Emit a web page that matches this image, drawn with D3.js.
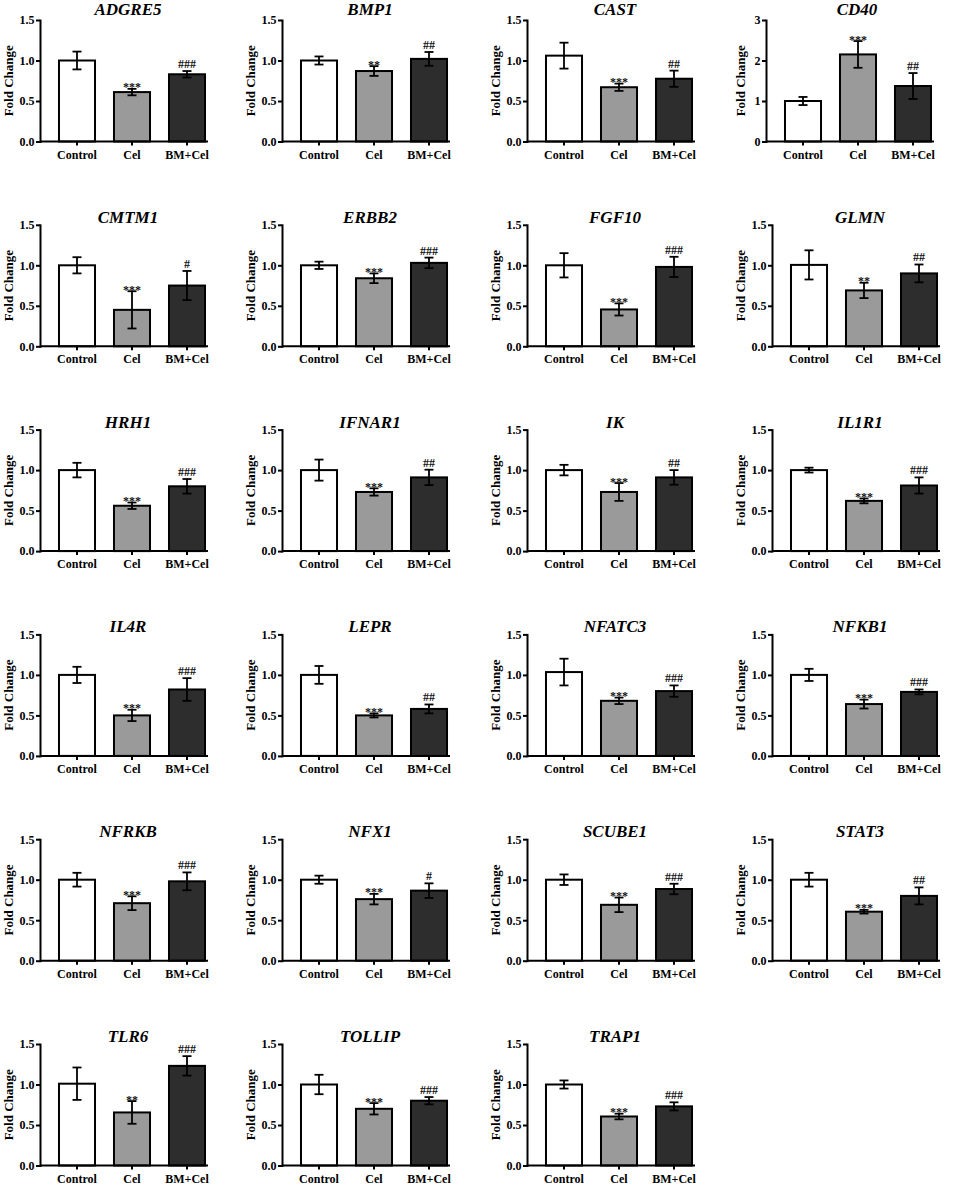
<!DOCTYPE html>
<html>
<head>
<meta charset="utf-8">
<script src="https://cdn.jsdelivr.net/npm/d3@7"></script>
<style>
  html, body { margin: 0; padding: 0; background: #fff; }
  svg { display: block; }
  svg text { font-family: "Liberation Serif", Tinos, "Times New Roman", Times, "DejaVu Serif", serif; }
</style>
</head>
<body>
<svg id="chart" width="964" height="1185"></svg>
<script>
// ---------------- data ----------------
const genes = ["ADGRE5","BMP1","CAST","CD40","CMTM1","ERBB2","FGF10","GLMN",
  "HRH1","IFNAR1","IK","IL1R1","IL4R","LEPR","NFATC3","NFKB1",
  "NFRKB","NFX1","SCUBE1","STAT3","TLR6","TOLLIP","TRAP1"];
const groups = ["Control","Cel","BM+Cel"];

const controlMean = [1.00,1.00,1.06,1.00,1.00,1.00,1.00,1.005,1.00,1.00,1.00,1.00,1.00,1.00,1.035,1.00,1.00,1.00,1.00,1.00,1.01,1.00,1.00];
const controlErr  = [0.11,0.05,0.16,0.10,0.10,0.045,0.15,0.18,0.09,0.13,0.065,0.03,0.10,0.11,0.165,0.075,0.085,0.05,0.065,0.085,0.20,0.12,0.05];
const celMean     = [0.61,0.87,0.67,2.15,0.45,0.84,0.455,0.69,0.56,0.73,0.73,0.62,0.50,0.50,0.68,0.64,0.71,0.76,0.69,0.605,0.655,0.70,0.605];
const celErr      = [0.04,0.06,0.045,0.33,0.23,0.06,0.075,0.095,0.04,0.045,0.11,0.03,0.07,0.025,0.04,0.055,0.085,0.065,0.09,0.023,0.14,0.07,0.035];
const bmcelMean   = [0.83,1.02,0.775,1.37,0.75,1.03,0.98,0.90,0.80,0.91,0.91,0.81,0.82,0.58,0.80,0.79,0.98,0.865,0.885,0.80,1.23,0.80,0.73];
const bmcelErr    = [0.04,0.085,0.10,0.32,0.18,0.065,0.125,0.11,0.09,0.095,0.09,0.10,0.14,0.055,0.07,0.03,0.11,0.09,0.065,0.105,0.12,0.045,0.05];
const celSig      = ["***","**","***","***","***","***","***","**","***","***","***","***","***","***","***","***","***","***","***","***","**","***","***"];
const bmcelSig    = ["###","##","##","##","#","###","###","##","###","##","##","###","###","##","###","###","###","#","###","##","###","###","###"];

const yTicksDefault = [0, 0.5, 1.0, 1.5];
const yTicksCD40 = [0, 1, 2, 3];
const yLabel = "Fold Change";

// ---------------- layout ----------------
const FONT = '"Liberation Serif", Tinos, "Times New Roman", Times, "DejaVu Serif", serif';
const colAxisX = [40, 282, 527, 772];
const rowTop = [20, 224.8, 429.6, 634.4, 839.2, 1044];
const titleGap = [5, 2, 2, 2, 2, 2];
const plotH = 121.5;
const axisLen = 168;
const fills = ["#ffffff", "#9a9a9a", "#2d2d2d"];

const svg = d3.select("#chart");

genes.forEach((gene, i) => {
  const row = Math.floor(i / 4), col = i % 4;
  const isCD40 = gene === "CD40";
  const ticks = isCD40 ? yTicksCD40 : yTicksDefault;
  const yMax = ticks[ticks.length - 1];
  const shift = isCD40 ? -6 : 0;
  const ax = colAxisX[col] + shift;
  const top = rowTop[row];

  const g = svg.append("g").attr("transform", `translate(${ax},${top})`)
    .attr("font-family", FONT);

  const y = d3.scaleLinear().domain([0, yMax]).range([plotH, 0]);
  const x = d3.scaleBand().domain(groups).range([9.5, 174.5])
    .paddingInner(0.345).paddingOuter(0.1725);

  const means = [controlMean[i], celMean[i], bmcelMean[i]];
  const errs = [controlErr[i], celErr[i], bmcelErr[i]];
  const sigs = ["", celSig[i], bmcelSig[i]];
  const data = groups.map((k, j) => ({ k, m: means[j], e: errs[j], s: sigs[j], f: fills[j] }));

  // bars
  g.selectAll("rect.bar").data(data).enter().append("rect")
    .attr("class", "bar")
    .attr("x", d => x(d.k))
    .attr("y", d => y(d.m))
    .attr("width", x.bandwidth())
    .attr("height", d => y(0) - y(d.m))
    .attr("fill", d => d.f)
    .attr("stroke", "#000")
    .attr("stroke-width", 2);

  // error bars
  const cap = 4.5;
  const eb = g.selectAll("g.err").data(data).enter().append("g").attr("class", "err")
    .attr("stroke", "#000").attr("stroke-width", 1.8);
  eb.append("line")
    .attr("x1", d => x(d.k) + x.bandwidth() / 2).attr("x2", d => x(d.k) + x.bandwidth() / 2)
    .attr("y1", d => y(d.m + d.e)).attr("y2", d => y(d.m - d.e));
  eb.append("line")
    .attr("x1", d => x(d.k) + x.bandwidth() / 2 - cap).attr("x2", d => x(d.k) + x.bandwidth() / 2 + cap)
    .attr("y1", d => y(d.m + d.e)).attr("y2", d => y(d.m + d.e));
  eb.append("line")
    .attr("x1", d => x(d.k) + x.bandwidth() / 2 - cap).attr("x2", d => x(d.k) + x.bandwidth() / 2 + cap)
    .attr("y1", d => y(d.m - d.e)).attr("y2", d => y(d.m - d.e));

  // significance marks
  g.selectAll("text.sig").data(data.filter(d => d.s)).enter().append("text")
    .attr("class", "sig")
    .attr("x", d => x(d.k) + x.bandwidth() / 2)
    .attr("y", d => y(d.m + d.e) + (d.s[0] === "*" ? 2.5 : -3))
    .attr("text-anchor", "middle")
    .attr("font-size", 12)
    .attr("font-weight", "bold")
    .style("font-family", FONT)
    .attr("fill", "#111")
    .text(d => d.s);

  // y axis
  const yAxis = d3.axisLeft(y).tickValues(ticks)
    .tickFormat(isCD40 ? d3.format("d") : d3.format(".1f"))
    .tickSize(4).tickSizeOuter(0).tickPadding(1.5);
  const ya = g.append("g").call(yAxis).attr("font-family", FONT);
  ya.select(".domain").attr("stroke-width", 2).attr("stroke-linecap", "square");
  ya.selectAll(".tick line").attr("stroke-width", 2);
  ya.selectAll(".tick text").attr("font-size", 12).attr("font-weight", "bold")
    .attr("fill", "#000").style("font-family", FONT);

  // x axis
  const xAxis = d3.axisBottom(x).tickSize(4).tickSizeOuter(0).tickPadding(4.5);
  const xa = g.append("g").attr("transform", `translate(0,${plotH})`).call(xAxis)
    .attr("font-family", FONT);
  xa.select(".domain").remove();
  xa.append("line").attr("x1", 0).attr("x2", axisLen).attr("y1", 0).attr("y2", 0)
    .attr("stroke", "#000").attr("stroke-width", 2);
  xa.selectAll(".tick line").attr("stroke-width", 2);
  xa.selectAll(".tick text").attr("font-size", 12).attr("font-weight", "bold")
    .attr("fill", "#000").style("font-family", FONT);

  // y label
  g.append("text")
    .attr("transform", `translate(${-27 - shift},${plotH / 2}) rotate(-90)`)
    .attr("text-anchor", "middle")
    .attr("font-size", 13)
    .attr("font-weight", "bold")
    .style("font-family", FONT)
    .text(yLabel);

  // title
  g.append("text")
    .attr("x", 88 - shift / 2)
    .attr("y", -titleGap[row])
    .attr("text-anchor", "middle")
    .attr("font-size", 17)
    .attr("font-weight", "bold")
    .attr("font-style", "italic")
    .style("font-family", FONT)
    .text(gene);
});
</script>
</body>
</html>
